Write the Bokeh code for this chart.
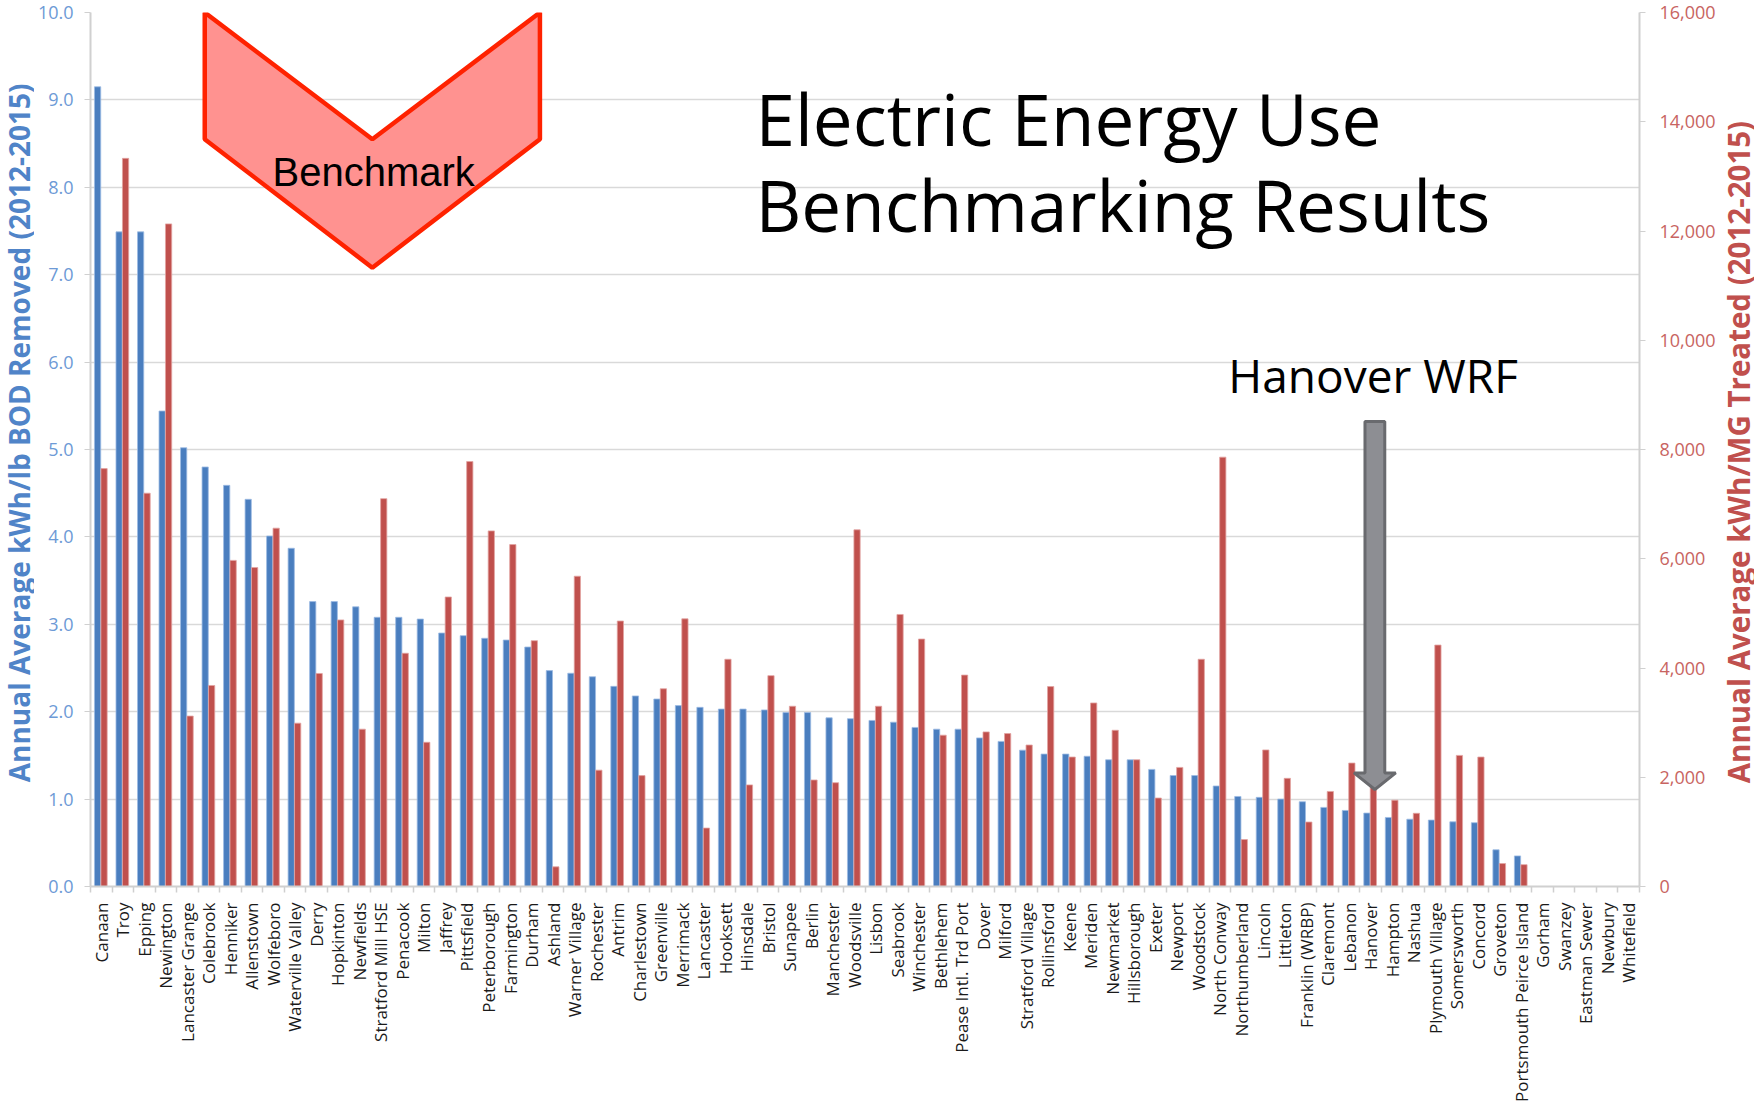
import math
import numpy as np
from bokeh.plotting import figure
from bokeh.layouts import row
from bokeh.models import Range1d, LinearAxis, FixedTicker, NumeralTickFormatter
from bokeh.core.properties import value
from bokeh.embed import file_html
from bokeh.resources import INLINE

plants = ["Canaan", "Troy", "Epping", "Newington", "Lancaster Grange", "Colebrook", "Henniker",
          "Allenstown", "Wolfeboro", "Waterville Valley", "Derry", "Hopkinton", "Newfields",
          "Stratford Mill HSE", "Penacook", "Milton", "Jaffrey", "Pittsfield", "Peterborough",
          "Farmington", "Durham", "Ashland", "Warner Village", "Rochester", "Antrim",
          "Charlestown", "Greenville", "Merrimack", "Lancaster", "Hooksett", "Hinsdale",
          "Bristol", "Sunapee", "Berlin", "Manchester", "Woodsville", "Lisbon", "Seabrook",
          "Winchester", "Bethlehem", "Pease Intl. Trd Port", "Dover", "Milford",
          "Stratford Village", "Rollinsford", "Keene", "Meriden", "Newmarket", "Hillsborough",
          "Exeter", "Newport", "Woodstock", "North Conway", "Northumberland", "Lincoln",
          "Littleton", "Franklin (WRBP)", "Claremont", "Lebanon", "Hanover", "Hampton",
          "Nashua", "Plymouth Village", "Somersworth", "Concord", "Groveton",
          "Portsmouth Peirce Island", "Gorham", "Swanzey", "Eastman Sewer", "Newbury",
          "Whitefield"]

kwh_per_lb_bod = [9.15, 7.49, 7.49, 5.44, 5.02, 4.80, 4.59, 4.43, 4.01, 3.87, 3.26, 3.26, 3.20,
                  3.08, 3.08, 3.06, 2.90, 2.87, 2.84, 2.82, 2.74, 2.47, 2.44, 2.40, 2.29, 2.18,
                  2.145, 2.07, 2.05, 2.03, 2.03, 2.02, 1.99, 1.99, 1.93, 1.92, 1.90, 1.88, 1.82,
                  1.80, 1.80, 1.70, 1.66, 1.56, 1.515, 1.515, 1.49, 1.45, 1.45, 1.34, 1.27, 1.27,
                  1.15, 1.03, 1.02, 1.00, 0.97, 0.905, 0.87, 0.84, 0.79, 0.77, 0.76, 0.74, 0.73,
                  0.42, 0.35, 0, 0, 0, 0, 0]

kwh_per_mg = [7650, 13330, 7200, 12130, 3120, 3680, 5970, 5840, 6560, 2990, 3900, 4880, 2880,
              7100, 4270, 2640, 5300, 7780, 6510, 6260, 4500, 360, 5680, 2130, 4860, 2030,
              3620, 4900, 1070, 4160, 1860, 3860, 3300, 1950, 1900, 6530, 3300, 4980, 4530,
              2770, 3870, 2830, 2800, 2590, 3660, 2370, 3360, 2860, 2320, 1620, 2180, 4160,
              7860, 860, 2500, 1980, 1180, 1740, 2260, 1840, 1580, 1340, 4420, 2400, 2370,
              420, 400, 0, 0, 0, 0, 0]

left_ticks = [0, 1, 2, 3, 4, 5, 6, 7, 8, 9, 10]
right_ticks = [0, 2000, 4000, 6000, 8000, 10000, 12000, 14000, 16000]

left_title = "Annual Average kWh/lb BOD Removed (2012-2015)"
right_title = "Annual Average kWh/MG Treated (2012-2015)"
title_lines = ["Electric Energy Use", "Benchmarking Results"]
callout_text = "Hanover WRF"
benchmark_text = "Benchmark"

n = len(plants)
xpos = np.arange(n)

p = figure(width=1684, height=1105, output_backend="svg", toolbar_location=None,
           x_range=Range1d(-0.5, n - 0.5), y_range=Range1d(0, 10),
           min_border_left=53, min_border_right=75, min_border_top=12, min_border_bottom=219)
p.extra_y_ranges = {"right": Range1d(0, 16000)}
p.outline_line_color = None
p.background_fill_color = "white"
p.border_fill_color = "white"

# grid
p.xgrid.visible = False
p.ygrid.ticker = FixedTicker(ticks=left_ticks)
p.ygrid.grid_line_color = "#D9D9D9"
p.ygrid.grid_line_width = 1.6

# bars
p.vbar(x=xpos - 0.17, top=kwh_per_lb_bod, width=0.29, bottom=0,
       fill_color="#4A7EBF", line_color="#9DBBE3", line_width=0.8)
p.vbar(x=xpos + 0.13, top=kwh_per_mg, width=0.29, bottom=0, y_range_name="right",
       fill_color="#C0504D", line_color="#E2A3A1", line_width=0.8)

# x axis
xa = p.xaxis[0]
xa.ticker = FixedTicker(ticks=list(xpos), minor_ticks=list(np.arange(n + 1) - 0.5))
xa.major_label_overrides = {int(i): name for i, name in zip(xpos, plants)}
xa.major_label_orientation = math.pi / 2
xa.major_tick_out = 0
xa.major_tick_in = 0
xa.minor_tick_out = 6
xa.minor_tick_in = 0
xa.minor_tick_line_color = "#CFCFCF"
xa.minor_tick_line_width = 1.5
xa.axis_line_color = "#D0D0D0"
xa.axis_line_width = 2
xa.major_label_text_font = "Open Sans"
xa.major_label_text_font_size = "17px"
xa.major_label_text_color = "#1A1A1A"
xa.major_label_standoff = 10

# left axis
ya = p.yaxis[0]
ya.ticker = FixedTicker(ticks=left_ticks)
ya.formatter = NumeralTickFormatter(format="0.0")
ya.minor_tick_out = 0
ya.minor_tick_in = 0
ya.major_tick_out = 6
ya.major_tick_in = 0
ya.major_tick_line_color = "#D0D0D0"
ya.axis_line_color = "#D0D0D0"
ya.axis_line_width = 2
ya.major_label_text_font = "Open Sans"
ya.major_label_text_font_size = "18px"
ya.major_label_text_color = "#6D9AD6"
ya.major_label_standoff = 11

# right axis
ra = LinearAxis(y_range_name="right")
ra.ticker = FixedTicker(ticks=right_ticks)
ra.formatter = NumeralTickFormatter(format="0,0")
ra.minor_tick_out = 0
ra.minor_tick_in = 0
ra.major_tick_out = 6
ra.major_tick_in = 0
ra.major_tick_line_color = "#D0D0D0"
ra.axis_line_color = "#D0D0D0"
ra.axis_line_width = 2
ra.major_label_text_font = "Open Sans"
ra.major_label_text_font_size = "18px"
ra.major_label_text_color = "#C86461"
ra.major_label_standoff = 14
p.add_layout(ra, "right")

# Benchmark chevron (annotation, data coordinates)
chev_x = [4.81, 12.60, 20.39, 20.39, 12.60, 4.81]
chev_y = [10.0, 8.55, 10.0, 8.55, 7.08, 8.55]
p.patch(chev_x, chev_y, fill_color="#FF9290", line_color="#FF2200", line_width=4.5)
p.text(x=[12.66], y=[8.17], text=[benchmark_text], text_font=value("Liberation Sans"),
       text_font_size="40px", text_color="black", text_align="center", text_baseline="middle")

# Title
p.text(x=[30.41, 30.41], y=[8.79, 7.80], text=title_lines, text_font=value("Open Sans"),
       text_font_size="71px", text_color="black", text_align="left", text_baseline="middle")

# Hanover callout
p.text(x=[52.39], y=[5.855], text=[callout_text], text_font=value("Open Sans"),
       text_font_size="46px", text_color="black", text_align="left", text_baseline="middle")
ac = 59.2
arrow_x = [ac - 0.46, ac + 0.46, ac + 0.46, ac + 0.97, ac, ac - 0.97, ac - 0.46]
arrow_y = [5.32, 5.32, 1.30, 1.30, 1.11, 1.30, 1.30]
p.patch(arrow_x, arrow_y, fill_color="#8D8E93", line_color="#696A6E", line_width=3)


def title_strip(width, x_center, y_center, text, color, size):
    s = figure(width=width, height=1105, output_backend="svg", toolbar_location=None,
               x_range=Range1d(0, width), y_range=p.y_range, min_border=0,
               x_axis_location=None, y_axis_location=None)
    s.outline_line_color = None
    s.grid.visible = False
    s.background_fill_color = "white"
    s.border_fill_color = "white"
    s.text(x=[x_center], y=[y_center], text=[text], angle=math.pi / 2,
           text_font=value("Open Sans"), text_font_style="bold", text_font_size=size,
           text_color=color, text_align="center", text_baseline="middle")
    return s


# axis titles (both read bottom-to-top) in narrow side strips
p_left = title_strip(34, 18.5, 5.19, left_title, "#5084C8", "28px")
p_right = title_strip(36, 20, 4.97, right_title, "#C0504D", "29.5px")

layout = row(p_left, p, p_right)
open("out.html", "w").write(file_html(layout, INLINE))
